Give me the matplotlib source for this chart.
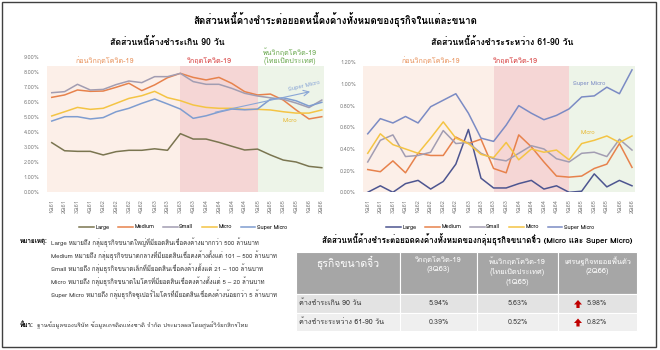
import matplotlib
matplotlib.use('Agg')
import matplotlib.pyplot as plt
from matplotlib import font_manager
from matplotlib.ft2font import FT2Font
from matplotlib.patches import Rectangle, FancyArrow


def thai_family():
    # first installed family that has Thai glyphs
    for f in font_manager.fontManager.ttflist:
        try:
            if FT2Font(f.fname).get_char_index(0x0E01):
                return f.name
        except Exception:
            pass
    return 'DejaVu Sans'


fam = thai_family()
plt.rcParams['font.family'] = [fam, 'DejaVu Sans']

quarters = ['1Q61', '2Q61', '3Q61', '4Q61', '1Q62', '2Q62', '3Q62', '4Q62',
            '1Q63', '2Q63', '3Q63', '4Q63', '1Q64', '2Q64', '3Q64', '4Q64',
            '1Q65', '2Q65', '3Q65', '4Q65', '1Q66', '2Q66']
sizes = ['Large', 'Medium', 'Small', 'Micro', 'Super Micro']

# ค้างชำระเกิน 90 วัน (%)
npl_large = [3.31, 2.77, 2.73, 2.73, 2.49, 2.71, 2.80, 2.80, 2.90, 2.80, 3.91,
             3.55, 3.55, 3.33, 3.07, 2.82, 2.88, 2.49, 2.15, 2.02, 1.73, 1.64]
npl_medium = [6.33, 6.49, 6.82, 6.73, 6.75, 7.00, 7.27, 6.78, 7.16, 7.64, 7.93,
              7.66, 7.49, 7.66, 7.26, 6.71, 6.49, 6.55, 6.15, 5.49, 4.89, 5.04]
npl_small = [6.64, 6.71, 7.20, 6.82, 6.86, 7.18, 7.42, 7.31, 7.71, 7.71, 7.93,
             7.38, 7.20, 7.20, 6.93, 6.60, 6.42, 6.30, 6.20, 5.95, 5.65, 6.15]
npl_micro = [5.09, 5.37, 5.66, 5.53, 5.60, 5.93, 6.26, 6.44, 6.73, 6.31, 6.11,
             5.82, 5.66, 5.60, 5.60, 5.53, 5.53, 5.49, 5.37, 5.28, 5.28, 5.49]
npl_smicro = [4.75, 5.04, 5.04, 4.89, 4.98, 5.37, 5.60, 5.93, 6.22, 5.89, 5.55,
              4.93, 5.10, 5.35, 5.55, 5.50, 5.55, 6.20, 6.30, 6.10, 5.75, 6.00]

# ค้างชำระระหว่าง 61-90 วัน (%)
sm_large = [0.00, 0.06, 0.00, 0.08, 0.11, 0.03, 0.10, 0.26, 0.58, 0.13, 0.04,
            0.04, 0.08, 0.11, 0.03, 0.06, 0.00, 0.01, 0.17, 0.05, 0.11, 0.06]
sm_medium = [0.21, 0.19, 0.29, 0.18, 0.36, 0.34, 0.34, 0.51, 0.45, 0.49, 0.22,
             0.18, 0.53, 0.42, 0.28, 0.15, 0.14, 0.15, 0.22, 0.26, 0.45, 0.23]
sm_small = [0.28, 0.48, 0.53, 0.33, 0.34, 0.37, 0.57, 0.45, 0.46, 0.36, 0.31,
            0.29, 0.36, 0.43, 0.40, 0.31, 0.28, 0.36, 0.37, 0.33, 0.49, 0.39]
sm_micro = [0.36, 0.54, 0.44, 0.40, 0.36, 0.50, 0.65, 0.50, 0.45, 0.35, 0.32,
            0.46, 0.30, 0.40, 0.37, 0.39, 0.30, 0.45, 0.48, 0.52, 0.46, 0.52]
sm_smicro = [0.54, 0.68, 0.64, 0.70, 0.64, 0.79, 0.85, 0.91, 0.73, 0.50, 0.47,
             0.62, 0.80, 0.73, 0.67, 0.71, 0.77, 0.88, 0.89, 0.97, 0.91, 1.13]

# ช่วงเวลา (ตำแหน่งไตรมาส)
pre_span = (-0.4, 10)
covid_span = (10, 16)
post_span = (16, 21.2)

# ตาราง Micro + Super Micro
tbl_header = ['ธุรกิจขนาดจิ๋ว', 'วิกฤตโควิด-19\n(3Q63)',
              'พ้นวิกฤตโควิด-19\n(ไทยเปิดประเทศ)\n(1Q65)',
              'เศรษฐกิจทยอยฟื้นตัว\n(2Q66)']
tbl_rows = ['ค้างชำระเกิน 90 วัน', 'ค้างชำระระหว่าง 61-90 วัน']
tbl_values = [[5.94, 5.63, 5.98], [0.39, 0.52, 0.82]]

notes = [
    'Large หมายถึง กลุ่มธุรกิจขนาดใหญ่ที่มียอดสินเชื่อคงค้างมากกว่า 500 ล้านบาท',
    'Medium หมายถึง กลุ่มธุรกิจขนาดกลางที่มียอดสินเชื่อคงค้างตั้งแต่ 101 – 500 ล้านบาท',
    'Small หมายถึง กลุ่มธุรกิจขนาดเล็กที่มียอดสินเชื่อคงค้างตั้งแต่ 21 – 100 ล้านบาท',
    'Micro หมายถึง กลุ่มธุรกิจขนาดไมโครที่มียอดสินเชื่อคงค้างตั้งแต่ 5 – 20 ล้านบาท',
    'Super Micro หมายถึง กลุ่มธุรกิจซูเปอร์ไมโครที่มียอดสินเชื่อคงค้างน้อยกว่า 5 ล้านบาท',
]

W, H = 660, 350
fig = plt.figure(figsize=(W / 100, H / 100), dpi=100)
fig.patch.set_facecolor('white')


def box(l, t, r, b):
    return [l / W, 1 - b / H, (r - l) / W, (b - t) / H]


def draw_panel(ax, series, colors, ymax, ystep, shade_top, fmt):
    x = range(len(quarters))
    ax.axvspan(*pre_span, ymax=shade_top, color='#fcefe8', lw=0, zorder=0)
    ax.axvspan(*covid_span, ymax=shade_top, color='#f5d6d5', lw=0, zorder=0)
    ax.axvspan(*post_span, ymax=shade_top, color='#edf4e8', lw=0, zorder=0)
    for name, vals in zip(sizes, series):
        ax.plot(x, vals, color=colors[name], lw=1.1, label=name, zorder=3)
    ax.set_ylim(0, ymax)
    ticks = [i * ystep for i in range(int(round(ymax / ystep)) + 1)]
    ax.set_yticks(ticks)
    ax.set_yticklabels([fmt.format(t) for t in ticks])
    ax.set_xticks(list(x))
    ax.set_xticklabels(quarters, rotation=90)
    ax.tick_params(length=0, labelsize=4, colors='#808080', pad=5)
    for s in ax.spines.values():
        s.set_visible(False)
    ax.set_facecolor('none')


# ----- กราฟซ้าย: เกิน 90 วัน -----
colors_l = {'Large': '#7a7550', 'Medium': '#e7824c', 'Small': '#a29db2',
            'Micro': '#f4c444', 'Super Micro': '#7f9dd0'}
axl = fig.add_axes(box(46.6, 57.3, 324.4, 192.3))
draw_panel(axl, [npl_large, npl_medium, npl_small, npl_micro, npl_smicro],
           colors_l, 9, 1, 8.45 / 9, '{:.2f}%')
axl.set_xlim(-0.4, 21.2)
axl.text(4.1, 8.72, 'ก่อนวิกฤตโควิด-19', color='#e8935d', fontsize=5.2,
         ha='center', va='center')
axl.text(12.3, 8.72, 'วิกฤตโควิด-19', color='#d63a3a', fontsize=5.2,
         ha='center', va='center')
axl.text(18.5, 9.05, 'พ้นวิกฤตโควิด-19\n(ไทยเปิดประเทศ)', color='#6aa84f',
         fontsize=5.1, ha='center', va='center', linespacing=1.0)
axl.annotate('', xy=(20.3, 6.75), xytext=(12.5, 5.3),
             arrowprops=dict(arrowstyle='->', color='#8aa6d6', lw=0.8), zorder=4)
axl.text(19.6, 7.1, 'Super Micro', color='#8aa6d6', fontsize=4.3,
         rotation=13, ha='center', va='center')
axl.text(18.5, 4.8, 'Micro', color='#e8b830', fontsize=4.3,
         ha='center', va='center')
fig.text(167 / W, 1 - 42 / H, 'สัดส่วนหนี้ค้างชำระเกิน 90 วัน',
         fontsize=6.3, fontweight='bold', ha='center', va='center')
fig.legend(*axl.get_legend_handles_labels(), loc='center',
           bbox_to_anchor=(183 / W, 1 - 227 / H), ncol=5, frameon=False,
           fontsize=4, handlelength=2.6, columnspacing=1.6, handletextpad=0.3)

# ----- กราฟขวา: 61-90 วัน -----
colors_r = dict(colors_l, **{'Large': '#4d5590', 'Super Micro': '#7b8bc4'})
axr = fig.add_axes(box(362.7, 62.3, 638.3, 192.3))
draw_panel(axr, [sm_large, sm_medium, sm_small, sm_micro, sm_smicro],
           colors_r, 1.2, 0.2, 1.168 / 1.2, '{:.2f}%')
axr.set_xlim(-0.4, 21.5)
axr.text(5.0, 1.21, 'ก่อนวิกฤตโควิด-19', color='#e8935d', fontsize=5.2,
         ha='center', va='center')
axr.text(11.7, 1.21, 'วิกฤตโควิด-19', color='#d63a3a', fontsize=5.2,
         ha='center', va='center')
axr.text(17.6, 1.0, 'Super Micro', color='#7b8bc4', fontsize=4.3,
         ha='center', va='center')
axr.text(17.5, 0.55, 'Micro', color='#e8b830', fontsize=4.3,
         ha='center', va='center')
fig.text(502 / W, 1 - 42 / H, 'สัดส่วนหนี้ค้างชำระระหว่าง 61-90 วัน',
         fontsize=6.3, fontweight='bold', ha='center', va='center')
fig.legend(*axr.get_legend_handles_labels(), loc='center',
           bbox_to_anchor=(490 / W, 1 - 227 / H), ncol=5, frameon=False,
           fontsize=4, handlelength=2.6, columnspacing=1.6, handletextpad=0.3)

# ----- ชั้นบน: หัวเรื่อง หมายเหตุ ตาราง กรอบ -----
ov = fig.add_axes([0, 0, 1, 1], zorder=-1)
ov.set_xlim(0, W)
ov.set_ylim(H, 0)
ov.axis('off')

ov.text(335, 20, 'สัดส่วนหนี้ค้างชำระต่อยอดหนี้คงค้างทั้งหมดของธุรกิจในแต่ละขนาด',
        fontsize=7, fontweight='bold', ha='center', va='center')

ov.text(20, 242, 'หมายเหตุ:', fontsize=4.6, fontweight='bold', va='center')
for i, line in enumerate(notes):
    ov.text(51, 242 + i * 13, line, fontsize=4.4, va='center', color='#333333')
ov.text(20, 325, 'ที่มา:', fontsize=4.6, fontweight='bold', va='center')
ov.text(37, 325, 'ฐานข้อมูลของบริษัท ข้อมูลเครดิตแห่งชาติ จำกัด ประมวลผลโดยศูนย์วิจัยกสิกรไทย',
        fontsize=4.3, va='center', color='#333333')

ov.text(477, 240, 'สัดส่วนหนี้ค้างชำระต่อยอดคงค้างทั้งหมดของกลุ่มธุรกิจขนาดจิ๋ว (Micro และ Super Micro)',
        fontsize=5.8, fontweight='bold', ha='center', va='center')

col_edges = [296, 400, 477, 558, 637]
row_edges = [251.5, 294, 313, 331]
row_fill = ['#a6a6a6', '#e3e3e3', '#efefef']
for r in range(3):
    for c in range(4):
        ov.add_patch(Rectangle((col_edges[c], row_edges[r]),
                               col_edges[c + 1] - col_edges[c],
                               row_edges[r + 1] - row_edges[r],
                               facecolor=row_fill[r], edgecolor='white', lw=0.8))
ov.text((col_edges[0] + col_edges[1]) / 2, 263, tbl_header[0], color='white',
        fontsize=7.5, ha='center', va='center')
for c in range(1, 4):
    cx = (col_edges[c] + col_edges[c + 1]) / 2
    ov.text(cx, 257, tbl_header[c], color='white', fontsize=5.4,
            ha='center', va='top', linespacing=1.45)
for r, (label, vals) in enumerate(zip(tbl_rows, tbl_values)):
    cy = (row_edges[r + 1] + row_edges[r + 2]) / 2
    ov.text(299, cy, label, fontsize=5.2, va='center', color='#333333')
    for c, v in enumerate(vals):
        cx = (col_edges[c + 1] + col_edges[c + 2]) / 2
        if c == 2:
            ov.add_patch(FancyArrow(578, cy + 4.5, 0, -8, width=3.2,
                                    head_width=8, head_length=4.5,
                                    length_includes_head=True,
                                    color='#c00000', lw=0))
            ov.text(587, cy, f'{v:.2f}%', fontsize=5.2, va='center',
                    color='#444444')
        else:
            ov.text(cx, cy, f'{v:.2f}%', fontsize=5.2, ha='center',
                    va='center', color='#444444')

ov.add_patch(Rectangle((2, 1.5), 654, 345, fill=False, edgecolor='#404040',
                       lw=1.0))

fig.savefig('out.png', dpi=100)
